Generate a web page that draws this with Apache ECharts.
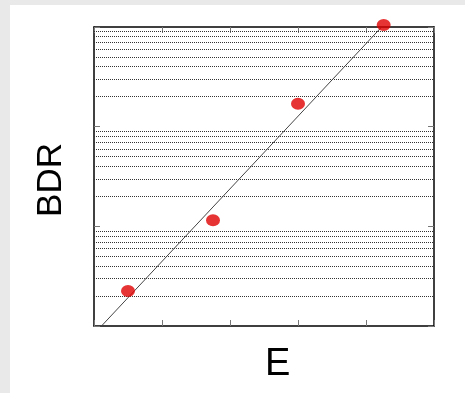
<!DOCTYPE html>
<html>
<head>
<meta charset="utf-8">
<script src="https://cdn.jsdelivr.net/npm/echarts@6/dist/echarts.min.js"></script>
<style>
  html, body { margin: 0; padding: 0; background: #e9e9e9; }
  #chart { position: absolute; left: 10px; top: 5px; width: 455px; height: 388px; background: #fff; }
</style>
</head>
<body>
<div id="chart"></div>
<script>
// --- data ---
const energyX = [0.5, 1.75, 3.0, 4.26];
const bdrY = [2.25, 11.5, 170, 1050];
const fitX = [0.11, 4.23];
const fitY = [1, 1000];
const minorGrid = [2, 3, 4, 5, 6, 7, 8, 9, 20, 30, 40, 50, 60, 70, 80, 90, 200, 300, 400, 500, 600, 700, 800, 900];

const FONT = "'Liberation Sans', Arial, sans-serif";
const TICK = { show: true, inside: true, length: 6, lineStyle: { color: '#777', width: 1 } };

const chart = echarts.init(document.getElementById('chart'), null, { renderer: 'canvas' });

const xBase = {
  type: 'value', min: 0, max: 5, interval: 1,
  axisLine: { show: true, onZero: false, lineStyle: { color: '#000', width: 1.5 } },
  axisTick: TICK, axisLabel: { show: false }, splitLine: { show: false },
};
const yBase = {
  type: 'log', logBase: 10, min: 1, max: 1000,
  axisLine: { show: true, onZero: false, lineStyle: { color: '#000', width: 1.5 } },
  axisTick: TICK, axisLabel: { show: false }, splitLine: { show: false },
};

chart.setOption({
  animation: false,
  grid: { left: 84, right: 31, top: 22, bottom: 67 },
  xAxis: [
    { ...xBase, position: 'bottom' },
    { ...xBase, position: 'top' },
  ],
  yAxis: [
    { ...yBase, position: 'left' },
    { ...yBase, position: 'right' },
  ],
  graphic: [
    { type: 'text', left: 24, top: 138, rotation: Math.PI / 2,
      style: { text: 'BDR', font: '35px ' + FONT, fill: '#000' }, z: 10 },
    { type: 'text', x: 255, y: 341,
      style: { text: 'E', font: '38px ' + FONT, fill: '#000' }, z: 10 },
  ],
  series: [
    {
      type: 'line',
      data: fitX.map((x, i) => [x, fitY[i]]),
      symbol: 'none',
      lineStyle: { color: '#444', width: 1 },
      markLine: {
        silent: true,
        symbol: 'none',
        label: { show: false },
        lineStyle: { color: '#333', width: 1, type: [1, 1] },
        data: minorGrid.map((v) => ({ yAxis: v })),
      },
      z: 3,
    },
    {
      type: 'scatter',
      data: energyX.map((x, i) => [x, bdrY[i]]),
      symbol: 'circle',
      symbolSize: [14, 12],
      itemStyle: { color: '#e00000' },
      clip: false,
      z: 5,
    },
  ],
});
</script>
</body>
</html>
